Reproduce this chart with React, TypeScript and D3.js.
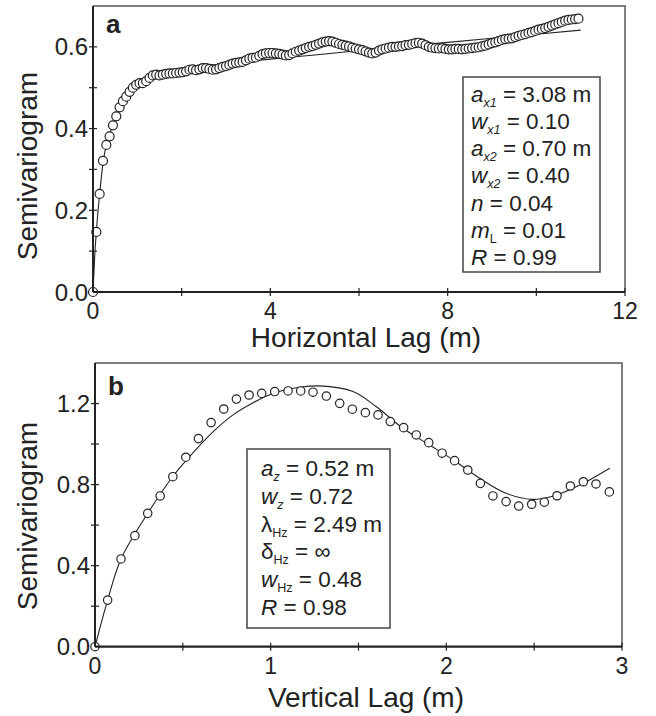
import React from "react";
import * as d3 from "d3";

// ---------- Panel a data (horizontal lag) ----------
const lagStepA = 0.075;
const semivarA = [
  0.0, 0.147, 0.24, 0.321, 0.36, 0.381, 0.408, 0.43, 0.452, 0.467,
  0.478, 0.49, 0.5, 0.507, 0.511, 0.511, 0.516, 0.524, 0.53, 0.532,
  0.53, 0.532, 0.534, 0.535, 0.535, 0.536, 0.537, 0.538, 0.54, 0.544,
  0.545, 0.543, 0.545, 0.548, 0.548, 0.546, 0.544, 0.545, 0.548, 0.551,
  0.553, 0.556, 0.559, 0.561, 0.562, 0.563, 0.567, 0.571, 0.573, 0.574,
  0.578, 0.582, 0.584, 0.585, 0.585, 0.584, 0.583, 0.581, 0.579, 0.58,
  0.584, 0.588, 0.591, 0.594, 0.597, 0.6, 0.602, 0.605, 0.608, 0.611,
  0.613, 0.614, 0.613, 0.61, 0.607, 0.605, 0.603, 0.601, 0.598, 0.596,
  0.594, 0.592, 0.589, 0.586, 0.584, 0.586, 0.591, 0.594, 0.596, 0.598,
  0.6, 0.6, 0.601, 0.602, 0.604, 0.605, 0.607, 0.609, 0.61, 0.608,
  0.604, 0.6, 0.598, 0.597, 0.596, 0.597, 0.595, 0.594, 0.594, 0.595,
  0.595, 0.594, 0.595, 0.596, 0.597, 0.598, 0.599, 0.601, 0.603, 0.606,
  0.609, 0.611, 0.614, 0.617, 0.619, 0.62, 0.621, 0.624, 0.627, 0.629,
  0.631, 0.634, 0.636, 0.639, 0.642, 0.644, 0.646, 0.649, 0.652, 0.655,
  0.658, 0.661, 0.664, 0.666, 0.667, 0.668, 0.669,
];
const lagA = semivarA.map((_, i) => i * lagStepA);
const fitAx = [0, 0.04, 0.075, 0.15, 0.225, 0.3, 0.4, 0.5, 0.6, 0.7, 0.8, 0.9, 1.0, 1.2, 1.5, 2, 3, 4, 5, 6, 7, 8, 9, 10, 11];
const fitAy = [0, 0.09, 0.147, 0.24, 0.315, 0.36, 0.395, 0.425, 0.45, 0.47, 0.487, 0.5, 0.51, 0.524, 0.535, 0.547, 0.559, 0.57, 0.58, 0.591, 0.601, 0.611, 0.621, 0.631, 0.641];
const xTicksA = [0, 2, 4, 6, 8, 10, 12];
const xTickLabelsA = ["0", "", "4", "", "8", "", "12"];
const yTicksA = [0, 0.1, 0.2, 0.3, 0.4, 0.5, 0.6];
const yTickLabelsA = ["0.0", "", "0.2", "", "0.4", "", "0.6"];

// ---------- Panel b data (vertical lag) ----------
const lagB = [
  0, 0.072, 0.148, 0.227, 0.3, 0.371, 0.443, 0.517, 0.589, 0.661,
  0.733, 0.805, 0.877, 0.949, 1.023, 1.099, 1.171, 1.241, 1.317, 1.393,
  1.465, 1.539, 1.611, 1.681, 1.757, 1.829, 1.9, 1.976, 2.047, 2.122,
  2.194, 2.265, 2.34, 2.412, 2.486, 2.558, 2.63, 2.706, 2.78, 2.852, 2.928,
];
const semivarB = [
  0, 0.23, 0.433, 0.548, 0.658, 0.744, 0.839, 0.935, 1.027, 1.106,
  1.173, 1.222, 1.242, 1.25, 1.259, 1.262, 1.262, 1.256, 1.237, 1.201,
  1.172, 1.155, 1.144, 1.111, 1.081, 1.045, 1.007, 0.955, 0.918, 0.872,
  0.806, 0.744, 0.716, 0.694, 0.703, 0.713, 0.745, 0.793, 0.814, 0.803, 0.764,
];
const fitBx = [0, 0.072, 0.148, 0.3, 0.443, 0.52, 0.673, 0.786, 0.9, 1.013, 1.166, 1.28, 1.469, 1.6, 1.753, 1.905, 2.04, 2.19, 2.34, 2.49, 2.61, 2.76, 2.93];
const fitBy = [0, 0.23, 0.433, 0.658, 0.84, 0.92, 1.061, 1.144, 1.204, 1.25, 1.28, 1.287, 1.259, 1.185, 1.078, 0.995, 0.921, 0.831, 0.757, 0.727, 0.744, 0.798, 0.881];
const xTicksB = [0, 0.5, 1, 1.5, 2, 2.5, 3];
const xTickLabelsB = ["0", "", "1", "", "2", "", "3"];
const yTicksB = [0, 0.2, 0.4, 0.6, 0.8, 1.0, 1.2];
const yTickLabelsB = ["0.0", "", "0.4", "", "0.8", "", "1.2"];

type Seg = { t: string; it?: boolean; sub?: boolean };
const legendA: Seg[][] = [
  [{ t: "a", it: true }, { t: "x1", it: true, sub: true }, { t: " = 3.08 m" }],
  [{ t: "w", it: true }, { t: "x1", it: true, sub: true }, { t: " = 0.10" }],
  [{ t: "a", it: true }, { t: "x2", it: true, sub: true }, { t: " = 0.70 m" }],
  [{ t: "w", it: true }, { t: "x2", it: true, sub: true }, { t: " = 0.40" }],
  [{ t: "n", it: true }, { t: " = 0.04" }],
  [{ t: "m", it: true }, { t: "L", sub: true }, { t: " = 0.01" }],
  [{ t: "R", it: true }, { t: " = 0.99" }],
];
const legendB: Seg[][] = [
  [{ t: "a", it: true }, { t: "z", it: true, sub: true }, { t: " = 0.52 m" }],
  [{ t: "w", it: true }, { t: "z", it: true, sub: true }, { t: " = 0.72" }],
  [{ t: "λ" }, { t: "Hz", sub: true }, { t: " = 2.49 m" }],
  [{ t: "δ" }, { t: "Hz", sub: true }, { t: " = ∞" }],
  [{ t: "w", it: true }, { t: "Hz", sub: true }, { t: " = 0.48" }],
  [{ t: "R", it: true }, { t: " = 0.98" }],
];

const FONT = "'Liberation Sans', Arial, Helvetica, sans-serif";
const INK = "#222";

function LegendLine({ segs, x, y }: { segs: Seg[]; x: number; y: number }) {
  const parts: React.ReactNode[] = [];
  let shifted = false;
  segs.forEach((s, i) => {
    let dy = 0;
    if (s.sub && !shifted) { dy = 5; shifted = true; }
    else if (!s.sub && shifted) { dy = -5; shifted = false; }
    parts.push(
      <tspan key={i} dy={dy || undefined} fontStyle={s.it ? "italic" : "normal"} fontSize={s.sub ? 12.5 : 22.5}>
        {s.t}
      </tspan>
    );
  });
  return (
    <text x={x} y={y} fill={INK} fontFamily={FONT} style={{ whiteSpace: "pre" }}>
      {parts}
    </text>
  );
}

type PanelProps = {
  left: number; right: number; top: number; bottom: number;
  xMax: number; yMax: number;
  xTicks: number[]; xLabels: string[]; yTicks: number[]; yLabels: string[];
  px: number[]; py: number[]; fx: number[]; fy: number[];
  curve: d3.CurveFactory;
  letter: string; letterY: number;
  xTitle: string; xTitleY: number; xTickY: number;
  yTitleCenter: number;
  legend: Seg[][]; box: [number, number, number, number]; legX: number; legY0: number; legDy: number;
  r: number;
};

function Panel(p: PanelProps) {
  const x = d3.scaleLinear().domain([0, p.xMax]).range([p.left, p.right]);
  const y = d3.scaleLinear().domain([0, p.yMax]).range([p.bottom, p.top]);
  const line = d3.line<number>().x((_, i) => x(p.fx[i])).y((d) => y(d)).curve(p.curve);
  return (
    <g>
      <path d={`M${p.left},${p.top}H${p.right}V${p.bottom}`} fill="none" stroke="#555" strokeWidth={1.5} />
      <path d={line(p.fy) || ""} fill="none" stroke={INK} strokeWidth={1.1} />
      {p.py.map((v, i) => (
        <circle key={i} cx={x(p.px[i])} cy={y(v)} r={p.r} fill="white" stroke={INK} strokeWidth={1.2} />
      ))}
      <line x1={p.left} x2={p.left} y1={p.top} y2={p.bottom} stroke={INK} strokeWidth={2} />
      <line x1={p.left} x2={p.right} y1={p.bottom} y2={p.bottom} stroke={INK} strokeWidth={2.2} />
      {p.xTicks.map((t, i) => (
        <g key={"xt" + i}>
          {i > 0 && <line x1={x(t)} x2={x(t)} y1={p.bottom - 4} y2={p.bottom + 4} stroke={INK} strokeWidth={1.2} />}
          <text x={x(t)} y={p.xTickY} textAnchor="middle" fontSize={23} fontFamily={FONT} fill={INK}>{p.xLabels[i]}</text>
        </g>
      ))}
      {p.yTicks.map((t, i) => (
        <g key={"yt" + i}>
          {i > 0 && <line x1={p.left - 4} x2={p.left + 4} y1={y(t)} y2={y(t)} stroke={INK} strokeWidth={1.2} />}
          <text x={p.left - 5} y={y(t)} dy="0.36em" textAnchor="end" fontSize={24} fontFamily={FONT} fill={INK}>{p.yLabels[i]}</text>
        </g>
      ))}
      <text x={p.left + 13} y={p.letterY} fontSize={26} fontWeight="bold" fontFamily={FONT} fill={INK}>{p.letter}</text>
      <text x={366} y={p.xTitleY} textAnchor="middle" fontSize={28} fontFamily={FONT} fill={INK}>{p.xTitle}</text>
      <text transform={`translate(37,${p.yTitleCenter}) rotate(-90)`} textAnchor="middle" fontSize={28} fontFamily={FONT} fill={INK}>Semivariogram</text>
      <rect x={p.box[0]} y={p.box[1]} width={p.box[2] - p.box[0]} height={p.box[3] - p.box[1]} fill="white" stroke="#444" strokeWidth={1.5} />
      {p.legend.map((segs, i) => (
        <LegendLine key={i} segs={segs} x={p.legX} y={p.legY0 + i * p.legDy} />
      ))}
    </g>
  );
}

export default function App() {
  return (
    <svg width={656} height={716} style={{ position: "absolute", left: 0, top: 0, background: "white" }}>
      <rect width={656} height={716} fill="white" />
      <Panel
        left={93} right={625} top={6} bottom={292}
        xMax={12} yMax={0.7}
        xTicks={xTicksA} xLabels={xTickLabelsA} yTicks={yTicksA} yLabels={yTickLabelsA}
        px={lagA} py={semivarA} fx={fitAx} fy={fitAy}
        curve={d3.curveMonotoneX}
        letter="a" letterY={33}
        xTitle="Horizontal Lag (m)" xTitleY={347} xTickY={319}
        yTitleCenter={166}
        legend={legendA} box={[463, 77, 600, 272]} legX={471} legY0={101.5} legDy={27.3}
        r={4.5}
      />
      <Panel
        left={95} right={622} top={363} bottom={646.7}
        xMax={3} yMax={1.4}
        xTicks={xTicksB} xLabels={xTickLabelsB} yTicks={yTicksB} yLabels={yTickLabelsB}
        px={lagB} py={semivarB} fx={fitBx} fy={fitBy}
        curve={d3.curveCatmullRom}
        letter="b" letterY={395}
        xTitle="Vertical Lag (m)" xTitleY={707} xTickY={674}
        yTitleCenter={516}
        legend={legendB} box={[247, 449, 390, 628]} legX={261} legY0={476} legDy={27.8}
        r={4.2}
      />
    </svg>
  );
}
